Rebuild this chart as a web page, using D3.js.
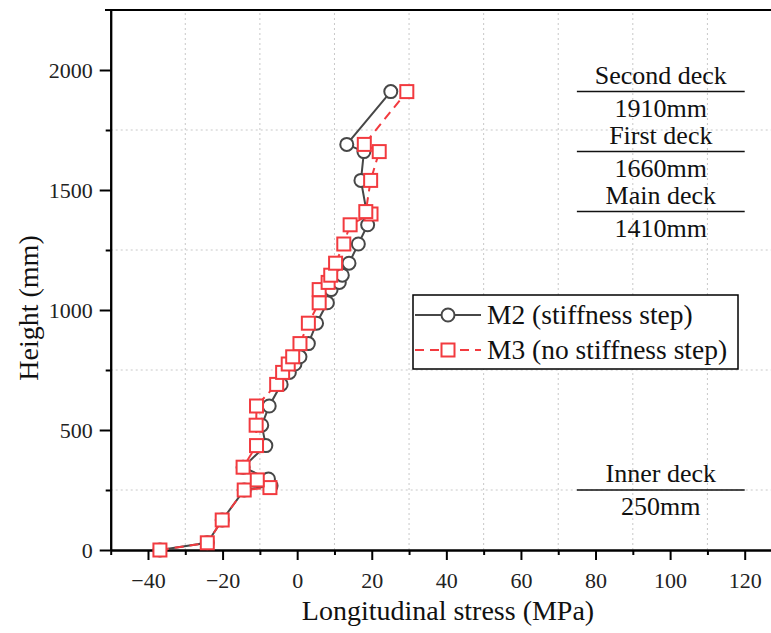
<!DOCTYPE html>
<html>
<head>
<meta charset="utf-8">
<script src="https://d3js.org/d3.v7.min.js"></script>
<style>
  body { margin: 0; background: #fff; }
  .grid line { stroke: #c8c8c8; stroke-width: 1; stroke-dasharray: 2,3; }
  .axis path, .axis line { stroke: #000; stroke-width: 2; }
</style>
</head>
<body>
<svg width="771" height="633"></svg>
<script>
  // M2 (stiffness step) - height (mm) and stress (MPa)
  const m2Height = [0, 30, 125, 250, 268, 296, 345, 435, 520, 600, 690, 740, 775, 805, 860, 945, 1030, 1085, 1115, 1145, 1195, 1275, 1355, 1410, 1540, 1660, 1690, 1910];
  const m2Stress = [-36.8, -24.1, -20.1, -14.2, -7.0, -7.7, -14.5, -8.4, -9.5, -7.5, -4.3, -2.1, -0.6, 0.75, 3.0, 5.2, 8.1, 9.1, 11.3, 12.1, 13.9, 16.4, 18.9, 18.6, 17.1, 17.9, 13.3, 25.1];

  // M3 (no stiffness step)
  const m3Height = [0, 30, 125, 250, 260, 292, 345, 435, 520, 600, 690, 740, 775, 805, 860, 945, 1030, 1085, 1115, 1145, 1195, 1275, 1355, 1400, 1410, 1540, 1660, 1690, 1910];
  const m3Stress = [-36.8, -24.1, -20.1, -14.2, -7.3, -10.7, -14.5, -10.9, -11.0, -10.9, -5.5, -3.9, -2.4, -1.2, 0.75, 3.0, 5.9, 5.9, 8.3, 9.0, 10.3, 12.5, 14.2, 19.8, 18.4, 19.7, 22.0, 18.0, 29.4];

  const xMajor = [-40, -20, 0, 20, 40, 60, 80, 100, 120];
  const xMinor = [-50, -30, -10, 10, 30, 50, 70, 90, 110, 130];
  const yMajor = [0, 500, 1000, 1500, 2000];
  const yMinor = [250, 750, 1250, 1750];

  const decks = [
    { name: 'Second deck', h: 1910, label: '1910mm' },
    { name: 'First deck', h: 1660, label: '1660mm' },
    { name: 'Main deck', h: 1410, label: '1410mm' },
    { name: 'Inner deck', h: 250, label: '250mm' }
  ];

  const FONT = '"Liberation Serif", "Times New Roman", serif';
  const svg = d3.select('svg').attr('font-family', FONT);
  const x = d3.scaleLinear().domain([-50, 130]).range([110.7, 782]);
  const y = d3.scaleLinear().domain([0, 2250]).range([550, 10]);

  // grid (on minor ticks)
  const grid = svg.append('g').attr('class', 'grid');
  grid.selectAll('.vx').data(xMinor.slice(1)).enter().append('line')
    .attr('x1', d => x(d)).attr('x2', d => x(d)).attr('y1', y(0)).attr('y2', y(2250));
  grid.selectAll('.hy').data(yMinor).enter().append('line')
    .attr('x1', x(-50)).attr('x2', 771).attr('y1', d => y(d)).attr('y2', d => y(d));

  // top frame
  svg.append('line').attr('x1', 105).attr('x2', 771).attr('y1', y(2250)).attr('y2', y(2250))
    .attr('stroke', '#000').attr('stroke-width', 2);

  // axes
  const fmt = d3.format('d');
  svg.append('g').attr('class', 'axis').attr('transform', `translate(0,${y(0)})`)
    .call(d3.axisBottom(x).tickValues(xMinor).tickSize(5).tickFormat('').tickSizeOuter(0));
  svg.append('g').attr('class', 'axis').attr('transform', `translate(0,${y(0)})`)
    .call(d3.axisBottom(x).tickValues(xMajor).tickSize(10).tickPadding(12).tickSizeOuter(0)
      .tickFormat(d => d < 0 ? '\u2212' + Math.abs(d) : fmt(d)));
  svg.append('g').attr('class', 'axis').attr('transform', `translate(${x(-50)},0)`)
    .call(d3.axisLeft(y).tickValues(yMinor).tickSize(5).tickFormat('').tickSizeOuter(0));
  svg.append('g').attr('class', 'axis').attr('transform', `translate(${x(-50)},0)`)
    .call(d3.axisLeft(y).tickValues(yMajor).tickSize(11).tickPadding(7).tickSizeOuter(0).tickFormat(fmt));
  svg.selectAll('.axis').attr('font-family', FONT).attr('font-size', 22);
  svg.selectAll('.axis text').attr('fill', '#222');

  // axis titles
  svg.append('text').attr('x', 448).attr('y', 620).attr('text-anchor', 'middle')
    .attr('font-size', 28).attr('fill', '#111').text('Longitudinal stress (MPa)');
  svg.append('text').attr('transform', 'translate(38,308) rotate(-90)').attr('text-anchor', 'middle')
    .attr('font-size', 28).attr('fill', '#111').text('Height (mm)');

  // series
  const m2 = m2Height.map((h, i) => [m2Stress[i], h]);
  const m3 = m3Height.map((h, i) => [m3Stress[i], h]);
  const line = d3.line().x(d => x(d[0])).y(d => y(d[1]));

  const c2 = '#474747', c3 = '#f23a3f';

  svg.append('path').datum(m2).attr('d', line).attr('fill', 'none')
    .attr('stroke', c2).attr('stroke-width', 2);
  svg.append('g').selectAll('circle').data(m2).enter().append('circle')
    .attr('cx', d => x(d[0])).attr('cy', d => y(d[1])).attr('r', 6.5)
    .attr('fill', '#fff').attr('stroke', c2).attr('stroke-width', 2);

  svg.append('path').datum(m3).attr('d', line).attr('fill', 'none')
    .attr('stroke', c3).attr('stroke-width', 2).attr('stroke-dasharray', '9,6');
  svg.append('g').selectAll('rect').data(m3).enter().append('rect')
    .attr('x', d => x(d[0]) - 6.5).attr('y', d => y(d[1]) - 6.5).attr('width', 13).attr('height', 13)
    .attr('fill', '#fff').attr('stroke', c3).attr('stroke-width', 2);

  // deck annotations
  const ann = svg.append('g').attr('font-size', 26).attr('fill', '#111').attr('text-anchor', 'middle');
  decks.forEach(d => {
    const yy = y(d.h);
    ann.append('line').attr('x1', x(75)).attr('x2', x(120)).attr('y1', yy).attr('y2', yy)
      .attr('stroke', '#111').attr('stroke-width', 1.5);
    ann.append('text').attr('x', x(97.5)).attr('y', yy - 8).text(d.name);
    ann.append('text').attr('x', x(97.5)).attr('y', yy + 25).text(d.label);
  });

  // legend
  const lg = svg.append('g');
  lg.append('rect').attr('x', 413).attr('y', 295).attr('width', 325).attr('height', 74)
    .attr('fill', '#fff').attr('stroke', '#000').attr('stroke-width', 1.5);
  const rows = [
    { name: 'M2 (stiffness step)', color: c2, dash: null, shape: 'circle', cy: 315 },
    { name: 'M3 (no stiffness step)', color: c3, dash: '9,6', shape: 'rect', cy: 350 }
  ];
  rows.forEach(r => {
    lg.append('line').attr('x1', 415).attr('x2', 481).attr('y1', r.cy).attr('y2', r.cy)
      .attr('stroke', r.color).attr('stroke-width', 2).attr('stroke-dasharray', r.dash);
    if (r.shape === 'circle') {
      lg.append('circle').attr('cx', 448).attr('cy', r.cy).attr('r', 6.5)
        .attr('fill', '#fff').attr('stroke', r.color).attr('stroke-width', 2);
    } else {
      lg.append('rect').attr('x', 441.5).attr('y', r.cy - 6.5).attr('width', 13).attr('height', 13)
        .attr('fill', '#fff').attr('stroke', r.color).attr('stroke-width', 2);
    }
    lg.append('text').attr('x', 487).attr('y', r.cy + 9).attr('font-size', 27.5).attr('fill', '#111').text(r.name);
  });
</script>
</body>
</html>
